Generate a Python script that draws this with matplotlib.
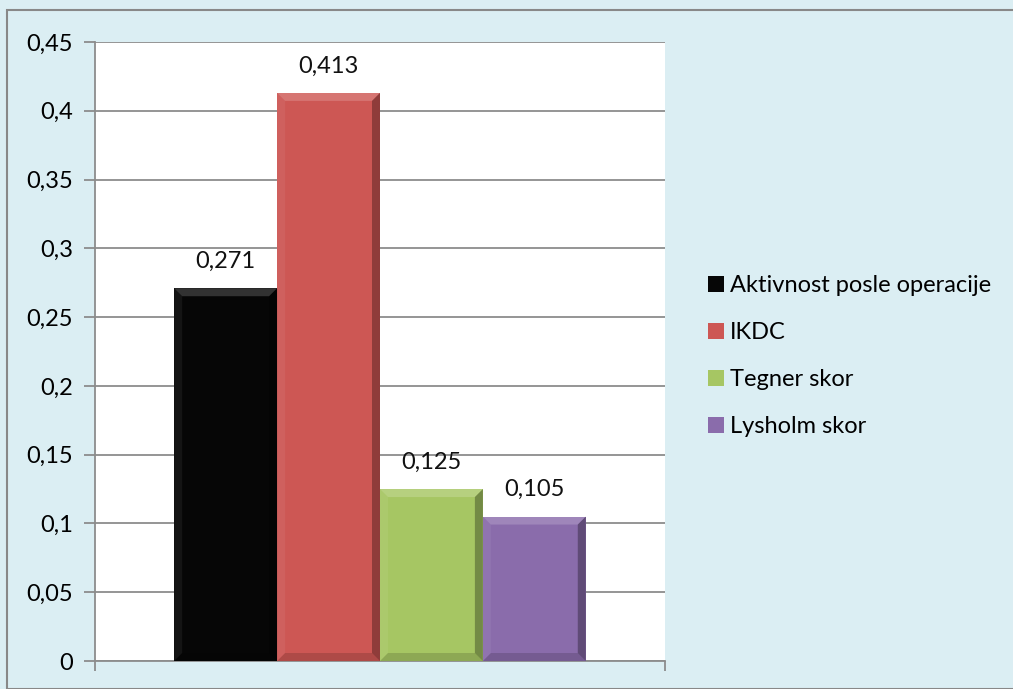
#!/usr/bin/env python3
"""Bar chart: correlation values per score (Serbian labels)."""

import matplotlib
matplotlib.use("Agg")
import matplotlib.pyplot as plt
from matplotlib.patches import Rectangle, Polygon, Patch

# data
categories = ["Aktivnost posle operacije", "IKDC", "Tegner skor", "Lysholm skor"]
values = [0.271, 0.413, 0.125, 0.105]
value_labels = ["0,271", "0,413", "0,125", "0,105"]
colors = ["#060606", "#CD5754", "#A6C663", "#8A6CAB"]
yticks = [0, 0.05, 0.1, 0.15, 0.2, 0.25, 0.3, 0.35, 0.4, 0.45]
ytick_labels = ["0", "0,05", "0,1", "0,15", "0,2", "0,25", "0,3", "0,35", "0,4", "0,45"]

plt.rcParams["font.family"] = ["Lato", "DejaVu Sans"]

bg = "#DBEEF3"
fig = plt.figure(figsize=(10.13, 6.89), dpi=100)
fig.patch.set_facecolor(bg)

# outer chart border
fig.patches.append(Rectangle((7 / 1013, 0), 1.0, 1 - 10 / 689, transform=fig.transFigure,
                             fill=False, edgecolor="#888888", linewidth=1.5))

ax = fig.add_axes([95 / 1013, 28 / 689, 570 / 1013, 619 / 689])
ax.set_facecolor("white")

x = list(range(len(values)))
bars = ax.bar(x, values, width=1.0, color=colors, zorder=3)

ax.set_xlim(-0.5 - 0.77, len(values) - 0.5 + 0.77)
ax.set_ylim(0, 0.45)

# simple bevel look on each bar
px_x = 1.0 / 103
px_y = 0.45 / 619
b = 8
for rect, c in zip(bars, colors):
    x0 = rect.get_x()
    w = rect.get_width()
    h = rect.get_height()
    top = Polygon([(x0, h), (x0 + w, h), (x0 + w - b * px_x, h - b * px_y),
                   (x0 + b * px_x, h - b * px_y)], closed=True,
                  facecolor="white", alpha=0.18, edgecolor="none", zorder=4)
    right = Polygon([(x0 + w, h), (x0 + w, 0), (x0 + w - b * px_x, b * px_y),
                     (x0 + w - b * px_x, h - b * px_y)], closed=True,
                    facecolor="black", alpha=0.3, edgecolor="none", zorder=4)
    bottom = Polygon([(x0, 0), (x0 + w, 0), (x0 + w - b * px_x, b * px_y),
                      (x0 + b * px_x, b * px_y)], closed=True,
                     facecolor="black", alpha=0.15, edgecolor="none", zorder=4)
    left = Polygon([(x0, 0), (x0, h), (x0 + b * px_x, h - b * px_y),
                    (x0 + b * px_x, b * px_y)], closed=True,
                   facecolor="white", alpha=0.06, edgecolor="none", zorder=4)
    for p in (top, right, bottom, left):
        ax.add_patch(p)

for xi, v, lab in zip(x, values, value_labels):
    ax.text(xi, v + 0.012, lab, ha="center", va="bottom", fontsize=17, color="#111111")

ax.set_yticks(yticks)
ax.set_yticklabels(ytick_labels, fontsize=17)
ax.yaxis.grid(True, color="#8C8C8C", linewidth=1.3, zorder=1)
ax.set_axisbelow(True)
ax.tick_params(axis="y", direction="out", length=8, width=1.3, color="#8C8C8C", pad=8)

ax.set_xticks([ax.get_xlim()[0], ax.get_xlim()[1]])
ax.set_xticklabels([])
ax.tick_params(axis="x", direction="out", length=7, width=1.3, color="#8C8C8C")

for side in ("top", "right"):
    ax.spines[side].set_visible(False)
for side in ("left", "bottom"):
    ax.spines[side].set_color("#8C8C8C")
    ax.spines[side].set_linewidth(1.3)

handles = [Patch(facecolor=c, edgecolor="none") for c in colors]
fig.legend(handles, categories, loc="upper left", bbox_to_anchor=(687 / 1013, 1 - 254 / 689),
           frameon=False, fontsize=17, handlelength=0.65, handleheight=0.65,
           handletextpad=0.25, labelspacing=1.1)

fig.savefig("out.png", dpi=100, facecolor=bg)
